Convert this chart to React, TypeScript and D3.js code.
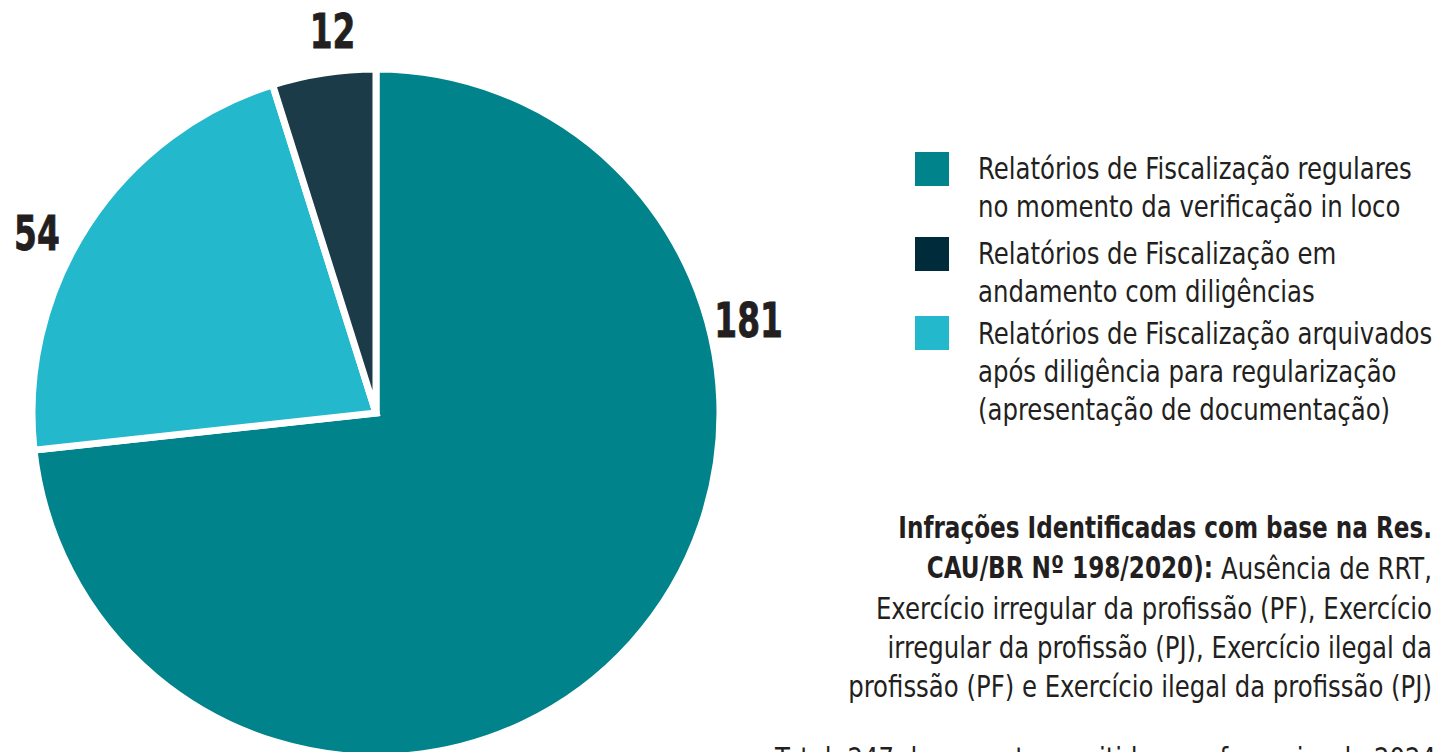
import React from "react";
import * as d3 from "d3";

const categories = [
  "Relatórios de Fiscalização regulares no momento da verificação in loco",
  "Relatórios de Fiscalização arquivados após diligência para regularização (apresentação de documentação)",
  "Relatórios de Fiscalização em andamento com diligências",
];
const values = [181, 54, 12];
const sliceColors = ["#00838a", "#23b8cb", "#1b3b48"];
const labelAngles = [76, 298, 353.5];

const legendLines = [
  ["Relatórios de Fiscalização regulares", "no momento da verificação in loco"],
  ["Relatórios de Fiscalização em", "andamento com diligências"],
  ["Relatórios de Fiscalização arquivados", "após diligência para regularização", "(apresentação de documentação)"],
];
const legendColors = ["#00838a", "#002b3a", "#23b8cb"];

const noteBold = ["Infrações Identificadas com base na Res.", "CAU/BR Nº 198/2020):"];
const noteLines = [
  "Exercício irregular da profissão (PF), Exercício",
  "irregular da profissão (PJ), Exercício ilegal da",
  "profissão (PF) e Exercício ilegal da profissão (PJ)",
];
const noteTail = "Ausência de RRT,";
const totalText = "Total: 247 documentos emitidos em fevereiro de 2024";

const FONT = "'DejaVu Sans Condensed', 'DejaVu Sans', sans-serif";
const TXT = "#231f20";

function SText({ x, y, sx, anchor = "start", children, ...rest }: any) {
  return (
    <g transform={`translate(${x},${y}) scale(${sx},1)`}>
      <text x={0} y={0} textAnchor={anchor} dominantBaseline="central" {...rest}>
        {children}
      </text>
    </g>
  );
}

export default function App() {
  const W = 1434, H = 752;
  const cx = 376, cy = 413, r = 344;
  const pie = d3.pie<number>().sort(null).value((d) => d);
  const arcs = pie(values);
  const arc = d3.arc<d3.PieArcDatum<number>>().innerRadius(0).outerRadius(r);
  const lr = 384;
  const REG = 0.875;
  return (
    <svg width={W} height={H} style={{ position: "fixed", left: 0, top: 0, background: "#fff" }} fontFamily={FONT}>
      <g transform={`translate(${cx},${cy})`}>
        {arcs.map((a, i) => (
          <path key={i} d={arc(a) || ""} fill={sliceColors[i]} stroke="#fff" strokeWidth={7} strokeLinejoin="miter" />
        ))}
        {arcs.map((a, i) => {
          const t = (labelAngles[i] * Math.PI) / 180;
          return (
            <SText key={i} x={lr * Math.sin(t)} y={-lr * Math.cos(t)} sx={0.76} anchor="middle"
              fontWeight="bold" fontSize={48} fill={TXT} stroke={TXT} strokeWidth={0.8}>
              {a.data}
            </SText>
          );
        })}
      </g>
      <g>
        {(() => {
          const out: any[] = [];
          const sqY = [152, 237, 316];
          const lineStart = [168, 253, 333];
          legendLines.forEach((lines, i) => {
            out.push(<rect key={"s" + i} x={915} y={sqY[i]} width={34} height={34} fill={legendColors[i]} />);
            lines.forEach((l, j) => {
              out.push(
                <SText key={`t${i}-${j}`} x={978} y={lineStart[i] + j * 38} sx={REG} fontSize={31} fill={TXT}>
                  {l}
                </SText>
              );
            });
          });
          return out;
        })()}
      </g>
      <g fill={TXT} fontSize={31}>
        <SText x={1432} y={528} sx={0.83} anchor="end" fontWeight="bold">{noteBold[0]}</SText>
        <SText x={1432} y={568} sx={REG} anchor="end">{noteTail}</SText>
        <SText x={1213} y={568} sx={0.83} anchor="end" fontWeight="bold">{noteBold[1]}</SText>
        {noteLines.map((l, i) => (
          <SText key={i} x={1432} y={608 + i * 39} sx={REG} anchor="end">{l}</SText>
        ))}
      </g>
      <SText x={775} y={758} sx={REG} fontSize={31} fill={TXT}>{totalText}</SText>
    </svg>
  );
}
